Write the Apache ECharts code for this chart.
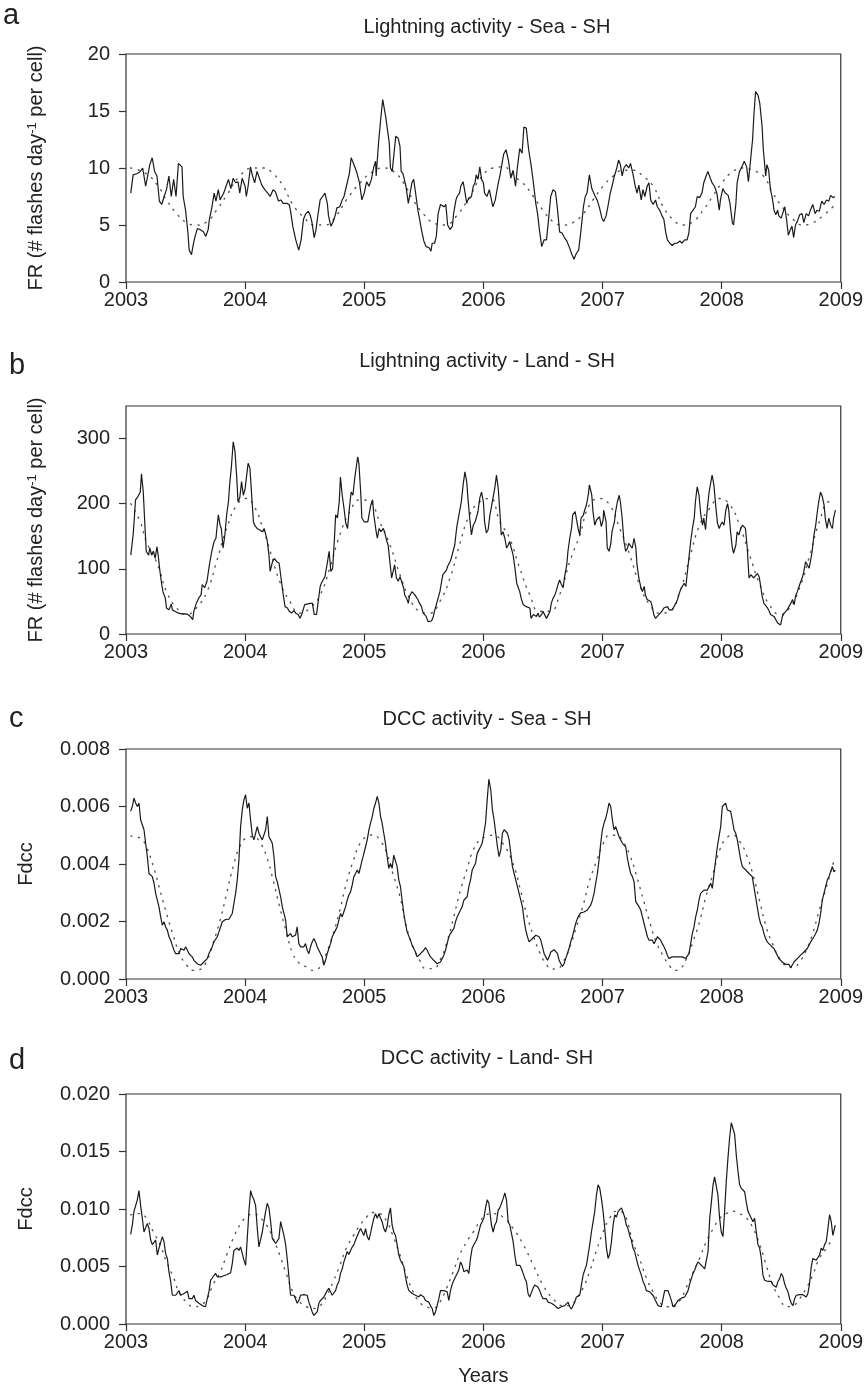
<!DOCTYPE html>
<html>
<head>
<meta charset="utf-8">
<script src="https://cdn.jsdelivr.net/npm/echarts@6/dist/echarts.min.js"></script>
<style>
  html, body { margin: 0; padding: 0; background: #fff; }
  #main { width: 866px; height: 1392px; }
</style>
</head>
<body>
<div id="main"></div>
<script>
// ---- data: [decimal year, value] ----
var yearTicks = [2003, 2004, 2005, 2006, 2007, 2008, 2009];

// a: lightning, sea
var seaFlash = [[2003.04,7.8],[2003.06,9.4],[2003.09,9.5],[2003.12,9.7],[2003.14,10.0],[2003.165,8.4],[2003.20,10.3],[2003.22,10.9],[2003.24,9.7],[2003.26,9.3],[2003.28,7.1],[2003.30,6.8],[2003.32,7.5],[2003.34,8.1],[2003.36,9.3],[2003.38,7.5],[2003.40,9.0],[2003.42,7.5],[2003.44,10.4],[2003.45,10.3],[2003.47,10.1],[2003.48,7.5],[2003.50,6.3],[2003.52,4.3],[2003.53,2.8],[2003.55,2.4],[2003.565,3.3],[2003.58,4.0],[2003.60,4.7],[2003.62,4.6],[2003.65,4.4],[2003.67,4.0],[2003.69,4.6],[2003.70,5.5],[2003.72,6.5],[2003.74,7.8],[2003.755,7.1],[2003.775,8.1],[2003.79,7.2],[2003.82,7.8],[2003.84,8.4],[2003.86,9.0],[2003.88,8.2],[2003.90,9.1],[2003.92,8.7],[2003.94,8.8],[2003.955,7.8],[2003.975,9.1],[2004.00,8.4],[2004.01,7.5],[2004.025,8.4],[2004.045,10.1],[2004.06,9.4],[2004.08,8.7],[2004.10,9.7],[2004.115,9.8],[2004.14,8.5],[2004.165,8.1],[2004.19,7.8],[2004.21,7.5],[2004.235,8.1],[2004.255,7.9],[2004.28,7.1],[2004.30,7.2],[2004.32,6.9],[2004.35,6.9],[2004.37,6.8],[2004.38,6.3],[2004.40,4.9],[2004.425,3.7],[2004.45,2.8],[2004.47,3.7],[2004.49,5.5],[2004.51,6.0],[2004.53,6.2],[2004.545,5.9],[2004.56,5.3],[2004.58,3.9],[2004.595,4.6],[2004.61,5.8],[2004.63,7.2],[2004.65,7.5],[2004.67,7.8],[2004.69,6.9],[2004.70,5.8],[2004.72,4.9],[2004.74,5.3],[2004.76,6.0],[2004.77,6.5],[2004.795,6.6],[2004.815,7.2],[2004.83,7.5],[2004.85,8.4],[2004.875,9.5],[2004.89,10.9],[2004.91,10.4],[2004.935,9.7],[2004.96,8.7],[2004.98,7.2],[2005.00,7.8],[2005.02,8.8],[2005.04,8.4],[2005.06,9.0],[2005.08,10.1],[2005.095,10.6],[2005.10,9.3],[2005.12,12.2],[2005.14,14.5],[2005.155,16.0],[2005.165,15.4],[2005.18,14.5],[2005.195,14.4],[2005.21,12.2],[2005.22,10.0],[2005.235,9.7],[2005.25,11.3],[2005.265,12.8],[2005.285,12.6],[2005.30,11.9],[2005.31,9.7],[2005.325,9.5],[2005.35,8.4],[2005.37,6.9],[2005.38,7.5],[2005.40,8.7],[2005.415,9.0],[2005.435,7.5],[2005.45,6.3],[2005.465,5.5],[2005.48,4.6],[2005.50,3.6],[2005.52,3.1],[2005.545,3.0],[2005.56,2.7],[2005.57,3.4],[2005.59,3.4],[2005.605,4.0],[2005.62,6.0],[2005.64,6.8],[2005.655,6.9],[2005.67,6.6],[2005.685,6.8],[2005.70,5.0],[2005.72,4.6],[2005.74,4.9],[2005.75,6.0],[2005.77,7.2],[2005.78,7.5],[2005.80,7.8],[2005.81,8.4],[2005.83,8.8],[2005.845,7.9],[2005.86,6.9],[2005.87,7.2],[2005.885,7.2],[2005.90,7.5],[2005.915,8.4],[2005.93,8.7],[2005.94,9.4],[2005.955,9.0],[2005.97,10.1],[2005.985,9.0],[2006.00,8.7],[2006.01,7.8],[2006.03,7.5],[2006.05,8.1],[2006.08,6.6],[2006.10,7.2],[2006.12,8.4],[2006.14,9.4],[2006.17,11.2],[2006.19,11.6],[2006.21,10.7],[2006.23,9.1],[2006.25,9.8],[2006.27,8.4],[2006.285,10.0],[2006.305,11.7],[2006.325,11.3],[2006.34,13.6],[2006.36,13.5],[2006.38,11.6],[2006.40,10.3],[2006.42,8.7],[2006.44,6.9],[2006.455,6.0],[2006.47,4.6],[2006.49,3.1],[2006.51,3.7],[2006.53,3.7],[2006.55,5.8],[2006.565,7.5],[2006.585,8.1],[2006.605,7.9],[2006.62,6.6],[2006.64,4.4],[2006.66,4.3],[2006.68,3.9],[2006.70,3.6],[2006.72,3.1],[2006.74,2.5],[2006.76,2.0],[2006.78,2.5],[2006.80,2.8],[2006.82,4.6],[2006.84,6.6],[2006.855,7.5],[2006.87,7.8],[2006.89,9.4],[2006.91,8.2],[2006.935,7.6],[2006.955,7.2],[2006.975,6.5],[2006.995,5.6],[2007.01,5.3],[2007.03,5.8],[2007.045,6.6],[2007.065,7.8],[2007.08,8.4],[2007.10,9.3],[2007.12,10.0],[2007.135,10.7],[2007.15,10.3],[2007.165,9.3],[2007.18,10.0],[2007.20,10.3],[2007.22,10.0],[2007.235,10.4],[2007.255,9.5],[2007.275,8.4],[2007.29,7.8],[2007.305,8.5],[2007.325,7.2],[2007.34,8.1],[2007.355,7.5],[2007.375,8.4],[2007.39,8.7],[2007.405,7.2],[2007.425,6.8],[2007.445,7.2],[2007.46,6.6],[2007.48,6.3],[2007.50,5.8],[2007.515,5.5],[2007.53,4.4],[2007.545,3.7],[2007.565,3.4],[2007.585,3.2],[2007.605,3.4],[2007.625,3.4],[2007.65,3.6],[2007.665,3.4],[2007.69,3.7],[2007.71,3.7],[2007.725,4.3],[2007.74,6.0],[2007.76,6.3],[2007.78,6.6],[2007.795,7.5],[2007.815,7.4],[2007.835,7.8],[2007.85,8.7],[2007.87,9.3],[2007.885,9.7],[2007.905,9.1],[2007.92,8.7],[2007.94,8.4],[2007.96,7.8],[2007.98,6.3],[2007.99,7.2],[2008.01,8.2],[2008.03,7.8],[2008.055,7.6],[2008.07,6.9],[2008.09,5.2],[2008.10,5.0],[2008.12,6.9],[2008.13,8.7],[2008.15,9.7],[2008.17,10.1],[2008.19,10.6],[2008.21,10.1],[2008.225,8.8],[2008.24,10.4],[2008.26,12.5],[2008.27,14.5],[2008.285,16.7],[2008.305,16.4],[2008.32,15.7],[2008.34,13.6],[2008.35,11.6],[2008.37,9.3],[2008.38,10.3],[2008.395,9.8],[2008.41,8.1],[2008.425,7.4],[2008.44,6.3],[2008.455,5.9],[2008.47,6.3],[2008.48,5.8],[2008.50,5.6],[2008.515,5.6],[2008.53,6.6],[2008.545,5.5],[2008.56,4.1],[2008.57,4.4],[2008.59,4.9],[2008.605,3.9],[2008.62,5.0],[2008.635,5.3],[2008.655,5.9],[2008.675,6.0],[2008.69,5.2],[2008.71,6.0],[2008.73,5.8],[2008.745,6.3],[2008.765,6.8],[2008.785,6.0],[2008.80,6.3],[2008.82,6.2],[2008.84,7.1],[2008.86,6.8],[2008.88,7.2],[2008.90,7.1],[2008.915,7.6],[2008.935,7.4],[2008.95,7.5]];
var seaFlashFit = [[2003.04,10.0],[2003.17,9.5],[2003.27,8.4],[2003.34,7.2],[2003.425,6.0],[2003.51,5.2],[2003.59,5.0],[2003.68,5.3],[2003.76,6.3],[2003.845,7.6],[2003.955,9.3],[2004.07,10.0],[2004.15,10.0],[2004.235,9.5],[2004.32,8.4],[2004.40,6.8],[2004.49,5.7],[2004.585,5.0],[2004.67,5.0],[2004.77,5.9],[2004.85,7.2],[2004.965,8.7],[2005.075,9.7],[2005.16,10.0],[2005.245,9.7],[2005.33,8.7],[2005.41,7.2],[2005.495,6.0],[2005.58,5.2],[2005.675,5.0],[2005.775,5.8],[2005.885,7.5],[2005.97,9.0],[2006.08,10.0],[2006.17,10.1],[2006.25,9.3],[2006.33,8.7],[2006.42,7.5],[2006.50,6.3],[2006.585,5.3],[2006.67,5.0],[2006.75,5.2],[2006.84,6.0],[2006.92,7.2],[2007.005,8.4],[2007.09,9.3],[2007.17,9.8],[2007.255,9.8],[2007.34,9.3],[2007.425,8.4],[2007.51,6.6],[2007.59,5.5],[2007.675,5.0],[2007.76,5.3],[2007.845,6.3],[2007.93,7.6],[2008.01,8.8],[2008.095,9.7],[2008.18,10.0],[2008.26,9.8],[2008.35,9.3],[2008.43,7.8],[2008.515,6.5],[2008.60,5.5],[2008.68,5.0],[2008.765,5.2],[2008.85,5.8],[2008.935,6.6]];

// b: lightning, land
var landFlash = [[2003.04,121],[2003.06,152],[2003.07,178],[2003.08,206],[2003.10,211],[2003.12,218],[2003.13,246],[2003.145,218],[2003.16,162],[2003.17,127],[2003.19,121],[2003.20,132],[2003.215,121],[2003.23,127],[2003.245,116],[2003.26,134],[2003.27,121],[2003.285,96],[2003.30,76],[2003.31,65],[2003.33,55],[2003.34,40],[2003.36,37],[2003.38,46],[2003.39,37],[2003.41,35],[2003.44,32],[2003.47,31],[2003.495,31],[2003.52,30],[2003.54,27],[2003.56,22],[2003.57,35],[2003.59,47],[2003.61,55],[2003.63,60],[2003.64,76],[2003.66,71],[2003.68,81],[2003.70,106],[2003.72,127],[2003.74,142],[2003.755,147],[2003.775,183],[2003.79,167],[2003.80,162],[2003.815,132],[2003.83,152],[2003.845,183],[2003.86,203],[2003.87,229],[2003.885,257],[2003.90,295],[2003.915,280],[2003.93,239],[2003.94,203],[2003.955,209],[2003.97,234],[2003.985,213],[2004.00,223],[2004.01,239],[2004.025,262],[2004.04,255],[2004.055,213],[2004.07,172],[2004.08,167],[2004.10,162],[2004.12,160],[2004.145,157],[2004.16,162],[2004.17,165],[2004.185,144],[2004.20,121],[2004.21,96],[2004.23,111],[2004.245,116],[2004.265,111],[2004.285,109],[2004.305,81],[2004.32,60],[2004.335,42],[2004.355,40],[2004.37,35],[2004.39,32],[2004.41,36],[2004.425,32],[2004.445,30],[2004.46,24],[2004.475,30],[2004.49,30],[2004.50,45],[2004.515,47],[2004.545,47],[2004.565,47],[2004.58,30],[2004.60,30],[2004.61,45],[2004.63,73],[2004.64,78],[2004.655,81],[2004.67,88],[2004.69,109],[2004.705,127],[2004.72,96],[2004.735,101],[2004.75,147],[2004.76,183],[2004.775,178],[2004.79,203],[2004.80,241],[2004.815,213],[2004.83,193],[2004.845,170],[2004.86,162],[2004.875,193],[2004.89,218],[2004.905,213],[2004.92,239],[2004.935,259],[2004.945,272],[2004.955,262],[2004.97,218],[2004.98,178],[2005.00,172],[2005.01,175],[2005.03,172],[2005.04,183],[2005.055,198],[2005.07,206],[2005.08,183],[2005.10,157],[2005.11,147],[2005.125,162],[2005.14,157],[2005.16,162],[2005.17,157],[2005.19,142],[2005.20,137],[2005.215,111],[2005.23,86],[2005.24,88],[2005.255,106],[2005.27,86],[2005.285,81],[2005.30,88],[2005.31,86],[2005.33,71],[2005.34,60],[2005.355,55],[2005.37,47],[2005.38,58],[2005.40,65],[2005.41,63],[2005.425,60],[2005.44,58],[2005.45,53],[2005.465,47],[2005.48,42],[2005.495,32],[2005.52,27],[2005.535,19],[2005.55,17],[2005.565,20],[2005.58,27],[2005.59,35],[2005.605,45],[2005.62,55],[2005.635,65],[2005.65,81],[2005.66,91],[2005.675,88],[2005.69,98],[2005.70,104],[2005.72,111],[2005.73,116],[2005.745,119],[2005.76,137],[2005.775,162],[2005.79,178],[2005.80,188],[2005.815,203],[2005.83,229],[2005.845,249],[2005.86,234],[2005.87,209],[2005.885,178],[2005.90,152],[2005.915,167],[2005.93,172],[2005.94,178],[2005.955,188],[2005.97,209],[2005.985,218],[2006.00,203],[2006.01,172],[2006.025,155],[2006.04,160],[2006.055,183],[2006.07,198],[2006.08,198],[2006.095,223],[2006.11,244],[2006.125,223],[2006.14,183],[2006.15,152],[2006.165,157],[2006.18,147],[2006.195,132],[2006.21,137],[2006.22,142],[2006.235,142],[2006.25,121],[2006.265,101],[2006.28,78],[2006.29,76],[2006.305,65],[2006.32,53],[2006.335,45],[2006.36,42],[2006.39,40],[2006.40,24],[2006.42,30],[2006.43,30],[2006.445,27],[2006.46,32],[2006.47,26],[2006.49,30],[2006.50,35],[2006.515,35],[2006.53,24],[2006.54,27],[2006.56,35],[2006.57,47],[2006.585,55],[2006.60,60],[2006.61,65],[2006.63,78],[2006.64,83],[2006.655,76],[2006.67,71],[2006.68,86],[2006.70,106],[2006.71,127],[2006.725,147],[2006.74,162],[2006.75,183],[2006.77,188],[2006.78,178],[2006.795,162],[2006.81,152],[2006.82,178],[2006.84,183],[2006.85,190],[2006.865,198],[2006.88,213],[2006.89,229],[2006.91,213],[2006.92,188],[2006.935,167],[2006.95,175],[2006.96,172],[2006.975,180],[2006.99,165],[2007.005,175],[2007.01,190],[2007.03,172],[2007.04,132],[2007.055,127],[2007.07,139],[2007.08,157],[2007.10,172],[2007.11,188],[2007.125,203],[2007.14,213],[2007.15,203],[2007.165,178],[2007.18,142],[2007.195,127],[2007.21,132],[2007.22,139],[2007.235,137],[2007.25,132],[2007.265,147],[2007.28,132],[2007.29,106],[2007.305,86],[2007.32,73],[2007.335,65],[2007.35,73],[2007.36,60],[2007.375,53],[2007.39,53],[2007.405,50],[2007.42,40],[2007.43,30],[2007.445,24],[2007.46,26],[2007.475,30],[2007.49,27],[2007.50,35],[2007.515,40],[2007.53,40],[2007.545,42],[2007.56,37],[2007.57,40],[2007.585,37],[2007.60,40],[2007.615,47],[2007.63,53],[2007.64,60],[2007.655,68],[2007.67,73],[2007.685,78],[2007.70,73],[2007.71,91],[2007.725,116],[2007.74,142],[2007.755,162],[2007.77,178],[2007.78,203],[2007.795,226],[2007.81,213],[2007.825,183],[2007.84,167],[2007.85,178],[2007.865,160],[2007.88,193],[2007.895,218],[2007.91,234],[2007.92,244],[2007.935,229],[2007.95,198],[2007.965,170],[2007.98,162],[2007.99,167],[2008.005,172],[2008.02,167],[2008.035,190],[2008.05,200],[2008.06,190],[2008.075,157],[2008.09,132],[2008.10,124],[2008.12,137],[2008.13,157],[2008.145,152],[2008.16,162],[2008.175,167],[2008.19,170],[2008.20,162],[2008.215,132],[2008.23,86],[2008.245,91],[2008.26,93],[2008.27,86],[2008.285,88],[2008.30,93],[2008.315,88],[2008.33,71],[2008.34,58],[2008.355,47],[2008.37,47],[2008.385,40],[2008.40,35],[2008.41,30],[2008.425,27],[2008.44,27],[2008.455,24],[2008.47,17],[2008.48,14],[2008.495,14],[2008.51,27],[2008.525,32],[2008.54,35],[2008.55,37],[2008.565,40],[2008.58,47],[2008.595,53],[2008.61,45],[2008.62,58],[2008.635,65],[2008.65,73],[2008.665,81],[2008.68,88],[2008.69,96],[2008.705,111],[2008.72,106],[2008.735,101],[2008.75,116],[2008.76,127],[2008.775,152],[2008.79,167],[2008.80,183],[2008.815,203],[2008.83,218],[2008.845,211],[2008.86,198],[2008.87,178],[2008.885,162],[2008.90,178],[2008.915,167],[2008.93,162],[2008.94,178],[2008.955,190]];
var landFlashFit = [[2003.04,200],[2003.12,172],[2003.17,142],[2003.23,121],[2003.285,96],[2003.34,65],[2003.425,40],[2003.51,30],[2003.59,40],[2003.68,65],[2003.76,111],[2003.845,162],[2003.93,198],[2004.01,208],[2004.07,198],[2004.15,162],[2004.21,127],[2004.29,81],[2004.375,50],[2004.46,32],[2004.545,40],[2004.63,60],[2004.71,101],[2004.795,152],[2004.88,188],[2004.965,206],[2005.045,203],[2005.13,172],[2005.215,137],[2005.30,91],[2005.38,55],[2005.465,35],[2005.55,32],[2005.635,50],[2005.72,86],[2005.80,137],[2005.885,183],[2005.97,203],[2006.055,208],[2006.14,172],[2006.22,147],[2006.305,101],[2006.39,60],[2006.47,35],[2006.56,35],[2006.64,60],[2006.725,111],[2006.81,152],[2006.89,198],[2006.975,208],[2007.06,198],[2007.145,162],[2007.23,121],[2007.31,76],[2007.395,45],[2007.48,32],[2007.565,35],[2007.65,65],[2007.73,116],[2007.815,167],[2007.90,193],[2007.985,208],[2008.07,198],[2008.15,167],[2008.235,121],[2008.32,76],[2008.40,45],[2008.49,30],[2008.57,40],[2008.655,71],[2008.74,121],[2008.82,172],[2008.905,203],[2008.95,200]];

// c: DCC, sea
var seaDcc = [[2003.039,0.00583],[2003.053,0.00600],[2003.067,0.00629],[2003.081,0.00612],[2003.095,0.00600],[2003.109,0.00612],[2003.123,0.00553],[2003.137,0.00553],[2003.151,0.00519],[2003.165,0.00472],[2003.179,0.00426],[2003.193,0.00367],[2003.207,0.00373],[2003.221,0.00356],[2003.235,0.00333],[2003.249,0.00298],[2003.263,0.00292],[2003.277,0.00251],[2003.291,0.00216],[2003.305,0.00187],[2003.319,0.00199],[2003.333,0.00181],[2003.347,0.00170],[2003.361,0.00147],[2003.375,0.00135],[2003.389,0.00117],[2003.403,0.00100],[2003.417,0.00088],[2003.431,0.00083],[2003.445,0.00088],[2003.459,0.00106],[2003.473,0.00109],[2003.487,0.00100],[2003.501,0.00112],[2003.515,0.00106],[2003.529,0.00088],[2003.543,0.00088],[2003.556,0.00077],[2003.570,0.00065],[2003.584,0.00065],[2003.598,0.00053],[2003.612,0.00059],[2003.626,0.00048],[2003.640,0.00053],[2003.654,0.00059],[2003.668,0.00065],[2003.682,0.00071],[2003.696,0.00088],[2003.710,0.00100],[2003.724,0.00112],[2003.738,0.00129],[2003.752,0.00135],[2003.766,0.00147],[2003.780,0.00164],[2003.794,0.00181],[2003.808,0.00199],[2003.822,0.00205],[2003.836,0.00207],[2003.850,0.00208],[2003.864,0.00208],[2003.878,0.00210],[2003.892,0.00228],[2003.906,0.00263],[2003.920,0.00298],[2003.934,0.00344],[2003.948,0.00414],[2003.962,0.00530],[2003.976,0.00588],[2003.990,0.00623],[2004.004,0.00641],[2004.018,0.00594],[2004.032,0.00612],[2004.046,0.00553],[2004.060,0.00501],[2004.074,0.00484],[2004.088,0.00507],[2004.102,0.00530],[2004.116,0.00507],[2004.130,0.00495],[2004.144,0.00484],[2004.158,0.00490],[2004.172,0.00519],[2004.186,0.00565],[2004.200,0.00495],[2004.214,0.00484],[2004.228,0.00472],[2004.242,0.00426],[2004.256,0.00356],[2004.270,0.00338],[2004.284,0.00333],[2004.298,0.00286],[2004.312,0.00251],[2004.326,0.00228],[2004.340,0.00205],[2004.353,0.00147],[2004.367,0.00141],[2004.381,0.00158],[2004.395,0.00147],[2004.409,0.00147],[2004.423,0.00152],[2004.437,0.00181],[2004.451,0.00123],[2004.465,0.00112],[2004.479,0.00117],[2004.493,0.00112],[2004.507,0.00123],[2004.521,0.00100],[2004.535,0.00088],[2004.549,0.00112],[2004.563,0.00129],[2004.577,0.00141],[2004.591,0.00129],[2004.605,0.00112],[2004.619,0.00100],[2004.633,0.00088],[2004.647,0.00077],[2004.661,0.00048],[2004.675,0.00065],[2004.689,0.00088],[2004.703,0.00106],[2004.717,0.00123],[2004.731,0.00147],[2004.745,0.00158],[2004.759,0.00170],[2004.773,0.00181],[2004.787,0.00205],[2004.801,0.00228],[2004.815,0.00216],[2004.829,0.00234],[2004.843,0.00251],[2004.857,0.00274],[2004.871,0.00292],[2004.885,0.00303],[2004.899,0.00327],[2004.913,0.00356],[2004.927,0.00367],[2004.941,0.00379],[2004.955,0.00367],[2004.969,0.00391],[2004.983,0.00414],[2004.997,0.00437],[2005.011,0.00460],[2005.025,0.00484],[2005.039,0.00519],[2005.053,0.00542],[2005.067,0.00565],[2005.081,0.00594],[2005.095,0.00612],[2005.109,0.00635],[2005.123,0.00612],[2005.137,0.00565],[2005.150,0.00542],[2005.164,0.00507],[2005.178,0.00472],[2005.192,0.00426],[2005.206,0.00385],[2005.220,0.00402],[2005.234,0.00385],[2005.248,0.00431],[2005.262,0.00426],[2005.276,0.00391],[2005.290,0.00344],[2005.304,0.00321],[2005.318,0.00274],[2005.332,0.00228],[2005.346,0.00193],[2005.360,0.00164],[2005.374,0.00158],[2005.388,0.00135],[2005.402,0.00117],[2005.416,0.00106],[2005.430,0.00094],[2005.444,0.00077],[2005.458,0.00074],[2005.472,0.00088],[2005.486,0.00094],[2005.500,0.00100],[2005.514,0.00109],[2005.528,0.00100],[2005.542,0.00088],[2005.556,0.00077],[2005.570,0.00071],[2005.584,0.00065],[2005.598,0.00059],[2005.612,0.00053],[2005.626,0.00056],[2005.640,0.00059],[2005.654,0.00065],[2005.668,0.00083],[2005.682,0.00100],[2005.696,0.00123],[2005.710,0.00147],[2005.724,0.00158],[2005.738,0.00164],[2005.752,0.00176],[2005.766,0.00199],[2005.780,0.00216],[2005.794,0.00222],[2005.808,0.00240],[2005.822,0.00251],[2005.836,0.00274],[2005.850,0.00269],[2005.864,0.00286],[2005.878,0.00321],[2005.892,0.00344],[2005.906,0.00379],[2005.920,0.00385],[2005.934,0.00402],[2005.948,0.00437],[2005.962,0.00431],[2005.976,0.00460],[2005.990,0.00472],[2006.004,0.00507],[2006.018,0.00542],[2006.032,0.00623],[2006.046,0.00695],[2006.062,0.00658],[2006.076,0.00588],[2006.090,0.00553],[2006.104,0.00507],[2006.118,0.00460],[2006.132,0.00426],[2006.146,0.00449],[2006.160,0.00507],[2006.174,0.00519],[2006.188,0.00519],[2006.202,0.00507],[2006.216,0.00484],[2006.230,0.00437],[2006.244,0.00391],[2006.258,0.00367],[2006.272,0.00344],[2006.286,0.00321],[2006.300,0.00298],[2006.314,0.00274],[2006.328,0.00251],[2006.342,0.00205],[2006.356,0.00170],[2006.370,0.00147],[2006.384,0.00129],[2006.398,0.00135],[2006.412,0.00141],[2006.426,0.00147],[2006.440,0.00152],[2006.454,0.00158],[2006.468,0.00147],[2006.482,0.00135],[2006.496,0.00112],[2006.510,0.00088],[2006.524,0.00077],[2006.538,0.00065],[2006.552,0.00077],[2006.566,0.00094],[2006.580,0.00100],[2006.594,0.00102],[2006.608,0.00100],[2006.622,0.00088],[2006.636,0.00065],[2006.650,0.00053],[2006.664,0.00044],[2006.677,0.00053],[2006.691,0.00071],[2006.705,0.00088],[2006.719,0.00106],[2006.733,0.00129],[2006.747,0.00147],[2006.761,0.00170],[2006.775,0.00193],[2006.789,0.00210],[2006.803,0.00222],[2006.817,0.00230],[2006.831,0.00234],[2006.845,0.00233],[2006.859,0.00234],[2006.873,0.00240],[2006.887,0.00245],[2006.901,0.00257],[2006.915,0.00274],[2006.929,0.00298],[2006.943,0.00333],[2006.957,0.00367],[2006.971,0.00414],[2006.985,0.00472],[2006.999,0.00519],[2007.013,0.00542],[2007.027,0.00559],[2007.041,0.00583],[2007.055,0.00612],[2007.069,0.00600],[2007.083,0.00553],[2007.097,0.00519],[2007.111,0.00530],[2007.125,0.00524],[2007.139,0.00495],[2007.153,0.00490],[2007.167,0.00472],[2007.181,0.00478],[2007.195,0.00460],[2007.209,0.00420],[2007.223,0.00391],[2007.237,0.00367],[2007.251,0.00356],[2007.265,0.00338],[2007.279,0.00269],[2007.293,0.00274],[2007.307,0.00251],[2007.321,0.00240],[2007.335,0.00216],[2007.349,0.00193],[2007.363,0.00170],[2007.377,0.00147],[2007.391,0.00135],[2007.405,0.00129],[2007.419,0.00135],[2007.433,0.00123],[2007.447,0.00135],[2007.461,0.00147],[2007.475,0.00152],[2007.488,0.00135],[2007.502,0.00123],[2007.516,0.00112],[2007.530,0.00100],[2007.544,0.00083],[2007.558,0.00071],[2007.572,0.00074],[2007.586,0.00077],[2007.600,0.00074],[2007.614,0.00077],[2007.628,0.00074],[2007.642,0.00077],[2007.656,0.00073],[2007.670,0.00077],[2007.684,0.00074],[2007.698,0.00071],[2007.712,0.00071],[2007.726,0.00088],[2007.740,0.00123],[2007.754,0.00158],[2007.768,0.00181],[2007.782,0.00216],[2007.796,0.00240],[2007.810,0.00274],[2007.824,0.00298],[2007.838,0.00303],[2007.852,0.00309],[2007.866,0.00315],[2007.880,0.00309],[2007.894,0.00321],[2007.908,0.00333],[2007.922,0.00315],[2007.936,0.00367],[2007.950,0.00414],[2007.964,0.00460],[2007.978,0.00495],[2007.992,0.00530],[2008.006,0.00600],[2008.020,0.00606],[2008.034,0.00612],[2008.048,0.00588],[2008.062,0.00594],[2008.076,0.00583],[2008.090,0.00553],[2008.104,0.00519],[2008.118,0.00507],[2008.132,0.00484],[2008.146,0.00449],[2008.160,0.00414],[2008.174,0.00391],[2008.188,0.00385],[2008.202,0.00379],[2008.216,0.00373],[2008.230,0.00367],[2008.244,0.00367],[2008.257,0.00356],[2008.271,0.00321],[2008.285,0.00286],[2008.299,0.00251],[2008.313,0.00216],[2008.327,0.00193],[2008.341,0.00181],[2008.355,0.00158],[2008.369,0.00141],[2008.383,0.00129],[2008.397,0.00123],[2008.411,0.00117],[2008.425,0.00112],[2008.439,0.00106],[2008.453,0.00094],[2008.467,0.00083],[2008.481,0.00071],[2008.495,0.00065],[2008.509,0.00059],[2008.523,0.00053],[2008.537,0.00051],[2008.551,0.00048],[2008.565,0.00051],[2008.579,0.00040],[2008.593,0.00048],[2008.607,0.00059],[2008.621,0.00065],[2008.635,0.00071],[2008.649,0.00077],[2008.663,0.00083],[2008.677,0.00088],[2008.691,0.00094],[2008.705,0.00100],[2008.719,0.00106],[2008.733,0.00117],[2008.747,0.00129],[2008.761,0.00135],[2008.775,0.00147],[2008.789,0.00158],[2008.803,0.00170],[2008.817,0.00193],[2008.831,0.00228],[2008.845,0.00274],[2008.859,0.00298],[2008.873,0.00321],[2008.887,0.00344],[2008.901,0.00356],[2008.915,0.00373],[2008.929,0.00391],[2008.943,0.00373],[2008.954,0.00379]];
var seaDccFit = [[2003.04,0.00497],[2003.12,0.00490],[2003.17,0.00460],[2003.23,0.00391],[2003.285,0.00309],[2003.34,0.00228],[2003.40,0.00147],[2003.45,0.00088],[2003.51,0.00048],[2003.565,0.00030],[2003.62,0.00033],[2003.68,0.00065],[2003.73,0.00123],[2003.79,0.00205],[2003.845,0.00298],[2003.90,0.00391],[2003.955,0.00460],[2004.01,0.00490],[2004.07,0.00495],[2004.12,0.00478],[2004.18,0.00426],[2004.235,0.00344],[2004.29,0.00251],[2004.35,0.00158],[2004.40,0.00088],[2004.46,0.00053],[2004.515,0.00042],[2004.57,0.00030],[2004.63,0.00042],[2004.68,0.00088],[2004.74,0.00158],[2004.795,0.00240],[2004.85,0.00333],[2004.91,0.00414],[2004.965,0.00472],[2005.02,0.00495],[2005.075,0.00501],[2005.13,0.00484],[2005.19,0.00437],[2005.24,0.00367],[2005.30,0.00286],[2005.355,0.00181],[2005.41,0.00112],[2005.465,0.00065],[2005.52,0.00036],[2005.58,0.00036],[2005.635,0.00065],[2005.69,0.00123],[2005.745,0.00205],[2005.80,0.00298],[2005.86,0.00379],[2005.915,0.00449],[2005.97,0.00484],[2006.025,0.00495],[2006.08,0.00500],[2006.165,0.00470],[2006.25,0.00400],[2006.305,0.00320],[2006.36,0.00230],[2006.42,0.00150],[2006.475,0.00090],[2006.53,0.00050],[2006.57,0.00035],[2006.615,0.00035],[2006.67,0.00060],[2006.725,0.00110],[2006.78,0.00180],[2006.84,0.00260],[2006.89,0.00340],[2006.95,0.00410],[2007.005,0.00470],[2007.06,0.00500],[2007.115,0.00500],[2007.17,0.00480],[2007.23,0.00430],[2007.285,0.00360],[2007.34,0.00280],[2007.395,0.00200],[2007.45,0.00130],[2007.51,0.00080],[2007.565,0.00045],[2007.605,0.00030],[2007.65,0.00035],[2007.705,0.00070],[2007.76,0.00130],[2007.815,0.00200],[2007.87,0.00290],[2007.93,0.00370],[2007.985,0.00450],[2008.04,0.00490],[2008.095,0.00500],[2008.15,0.00480],[2008.21,0.00430],[2008.265,0.00360],[2008.32,0.00270],[2008.375,0.00180],[2008.43,0.00120],[2008.49,0.00070],[2008.545,0.00045],[2008.60,0.00040],[2008.655,0.00060],[2008.71,0.00100],[2008.765,0.00160],[2008.82,0.00240],[2008.88,0.00320],[2008.935,0.00400],[2008.955,0.00420]];

// d: DCC, land
var landDcc = [[2003.039,0.0078],[2003.053,0.0086],[2003.067,0.0098],[2003.081,0.0103],[2003.095,0.0108],[2003.109,0.0116],[2003.123,0.0103],[2003.137,0.0092],[2003.151,0.0080],[2003.165,0.0079],[2003.179,0.00875],[2003.193,0.0083],[2003.207,0.0073],[2003.221,0.0069],[2003.235,0.0070],[2003.249,0.0073],[2003.263,0.0060],[2003.277,0.0066],[2003.291,0.0066],[2003.305,0.0076],[2003.319,0.00715],[2003.333,0.0061],[2003.347,0.0057],[2003.361,0.0045],[2003.375,0.0037],[2003.389,0.0025],[2003.403,0.00235],[2003.417,0.0025],[2003.431,0.00235],[2003.445,0.0029],[2003.459,0.0025],[2003.473,0.00235],[2003.487,0.00265],[2003.501,0.0025],[2003.515,0.00285],[2003.529,0.0022],[2003.543,0.00205],[2003.556,0.0022],[2003.570,0.0025],[2003.584,0.00205],[2003.598,0.00205],[2003.612,0.0018],[2003.626,0.0019],[2003.640,0.0016],[2003.654,0.0016],[2003.668,0.0015],[2003.682,0.0022],[2003.696,0.0028],[2003.710,0.0038],[2003.724,0.0040],[2003.738,0.0041],[2003.752,0.0044],[2003.766,0.0041],[2003.780,0.0042],[2003.794,0.0041],[2003.808,0.0042],[2003.822,0.0042],[2003.836,0.0043],[2003.850,0.0043],[2003.864,0.00435],[2003.878,0.00445],[2003.892,0.00525],[2003.906,0.0064],[2003.920,0.0064],[2003.934,0.0066],[2003.948,0.0064],[2003.962,0.0067],[2003.976,0.0066],[2003.990,0.00555],[2004.004,0.0051],[2004.018,0.00745],[2004.032,0.0098],[2004.046,0.0116],[2004.060,0.0111],[2004.074,0.0108],[2004.088,0.0103],[2004.102,0.0083],[2004.116,0.0067],[2004.130,0.0066],[2004.144,0.0080],[2004.158,0.0089],[2004.172,0.0098],[2004.186,0.0105],[2004.200,0.0101],[2004.214,0.0089],[2004.228,0.00745],[2004.242,0.0073],[2004.256,0.0070],[2004.270,0.0069],[2004.284,0.00745],[2004.298,0.0089],[2004.312,0.0083],[2004.326,0.0077],[2004.340,0.0069],[2004.353,0.0057],[2004.367,0.0042],[2004.381,0.0025],[2004.395,0.00235],[2004.409,0.0025],[2004.423,0.0022],[2004.437,0.0018],[2004.451,0.00205],[2004.465,0.0025],[2004.479,0.0025],[2004.493,0.00255],[2004.507,0.00265],[2004.521,0.0025],[2004.535,0.0019],[2004.549,0.0015],[2004.563,0.00105],[2004.577,0.00075],[2004.591,0.00075],[2004.605,0.00105],[2004.619,0.0018],[2004.633,0.00205],[2004.647,0.0022],[2004.661,0.00235],[2004.675,0.0025],[2004.689,0.0029],[2004.703,0.0031],[2004.717,0.0028],[2004.731,0.0025],[2004.745,0.00265],[2004.759,0.0029],[2004.773,0.0034],[2004.787,0.0037],[2004.801,0.0044],[2004.815,0.0048],[2004.829,0.0054],[2004.843,0.00585],[2004.857,0.0063],[2004.871,0.00605],[2004.885,0.0064],[2004.899,0.0067],[2004.913,0.0069],[2004.927,0.0073],[2004.941,0.00745],[2004.955,0.0080],[2004.969,0.0083],[2004.983,0.0080],[2004.997,0.0077],[2005.011,0.0083],[2005.025,0.0076],[2005.039,0.0073],[2005.053,0.0079],[2005.067,0.0086],[2005.081,0.0092],[2005.095,0.0096],[2005.109,0.0092],[2005.123,0.0096],[2005.137,0.0092],[2005.150,0.0089],[2005.164,0.0083],[2005.178,0.0080],[2005.192,0.0085],[2005.206,0.0095],[2005.220,0.0101],[2005.234,0.0086],[2005.248,0.0080],[2005.262,0.0077],[2005.276,0.0069],[2005.290,0.0060],[2005.304,0.00555],[2005.318,0.0057],[2005.332,0.0050],[2005.346,0.0041],[2005.360,0.0034],[2005.374,0.0029],[2005.388,0.0028],[2005.402,0.00265],[2005.416,0.0025],[2005.430,0.0025],[2005.444,0.00255],[2005.458,0.00235],[2005.472,0.00255],[2005.486,0.00265],[2005.500,0.00235],[2005.514,0.00205],[2005.528,0.0019],[2005.542,0.0019],[2005.556,0.0016],[2005.570,0.00135],[2005.584,0.00075],[2005.598,0.00105],[2005.612,0.0016],[2005.626,0.0022],[2005.640,0.0029],[2005.654,0.0030],[2005.668,0.0029],[2005.682,0.0029],[2005.696,0.0028],[2005.710,0.00205],[2005.724,0.0029],[2005.738,0.00345],[2005.752,0.0038],[2005.766,0.00395],[2005.780,0.0044],[2005.794,0.0047],[2005.808,0.0054],[2005.822,0.0051],[2005.836,0.00455],[2005.850,0.0047],[2005.864,0.0047],[2005.878,0.0044],[2005.892,0.0057],[2005.906,0.0066],[2005.920,0.0069],[2005.934,0.00715],[2005.948,0.00745],[2005.962,0.0076],[2005.976,0.0086],[2005.990,0.0089],[2006.004,0.0092],[2006.018,0.0101],[2006.032,0.0108],[2006.046,0.0105],[2006.068,0.0086],[2006.082,0.0080],[2006.096,0.0086],[2006.110,0.0089],[2006.124,0.0099],[2006.138,0.0101],[2006.152,0.0102],[2006.166,0.0109],[2006.180,0.0114],[2006.194,0.0108],[2006.208,0.0089],[2006.222,0.0086],[2006.236,0.00845],[2006.250,0.00715],[2006.264,0.0060],[2006.278,0.0051],[2006.292,0.00495],[2006.306,0.0051],[2006.320,0.0048],[2006.334,0.0044],[2006.348,0.00395],[2006.361,0.0037],[2006.375,0.00265],[2006.389,0.00235],[2006.403,0.0025],[2006.417,0.0031],[2006.431,0.0034],[2006.445,0.0034],[2006.459,0.0032],[2006.473,0.0029],[2006.487,0.0025],[2006.501,0.0022],[2006.515,0.00205],[2006.529,0.0022],[2006.543,0.0019],[2006.557,0.00195],[2006.571,0.0018],[2006.585,0.0019],[2006.599,0.0016],[2006.613,0.0015],[2006.627,0.00135],[2006.641,0.0012],[2006.655,0.0015],[2006.669,0.0014],[2006.683,0.0016],[2006.697,0.0015],[2006.711,0.0019],[2006.725,0.0015],[2006.739,0.0013],[2006.753,0.0016],[2006.767,0.0019],[2006.781,0.00235],[2006.795,0.0022],[2006.809,0.0025],[2006.823,0.0034],[2006.837,0.00425],[2006.851,0.0047],[2006.865,0.0051],[2006.879,0.0060],[2006.893,0.0069],[2006.907,0.0080],[2006.921,0.0089],[2006.935,0.0098],[2006.949,0.0112],[2006.963,0.0121],[2006.977,0.0118],[2006.991,0.0109],[2007.005,0.0098],[2007.019,0.0083],[2007.033,0.0066],[2007.047,0.0057],[2007.061,0.0061],[2007.075,0.00715],[2007.089,0.0086],[2007.103,0.0095],[2007.117,0.0093],[2007.131,0.0098],[2007.145,0.0099],[2007.159,0.0101],[2007.172,0.0101],[2007.186,0.0093],[2007.200,0.0086],[2007.214,0.0083],[2007.228,0.0077],[2007.242,0.0073],[2007.256,0.0066],[2007.270,0.0063],[2007.284,0.0057],[2007.298,0.0051],[2007.312,0.00495],[2007.326,0.00425],[2007.340,0.0037],[2007.354,0.0034],[2007.368,0.0029],[2007.382,0.0028],[2007.396,0.0028],[2007.410,0.00265],[2007.424,0.0025],[2007.438,0.0022],[2007.452,0.0019],[2007.466,0.0016],[2007.480,0.0015],[2007.494,0.0015],[2007.508,0.0022],[2007.522,0.0029],[2007.536,0.0029],[2007.550,0.0029],[2007.564,0.0028],[2007.578,0.00205],[2007.592,0.0015],[2007.606,0.00135],[2007.620,0.0018],[2007.634,0.00205],[2007.648,0.0022],[2007.662,0.00225],[2007.676,0.00235],[2007.690,0.00235],[2007.704,0.0025],[2007.718,0.0029],[2007.732,0.0035],[2007.746,0.00395],[2007.760,0.0044],[2007.774,0.0047],[2007.788,0.0051],[2007.802,0.0054],[2007.816,0.00525],[2007.830,0.0051],[2007.844,0.00495],[2007.858,0.0048],[2007.872,0.0047],[2007.886,0.0063],[2007.900,0.0092],[2007.914,0.0106],[2007.928,0.0121],[2007.941,0.0128],[2007.955,0.0127],[2007.969,0.0112],[2007.983,0.0092],[2007.997,0.0080],[2008.011,0.0076],[2008.025,0.0098],[2008.039,0.0124],[2008.053,0.0144],[2008.067,0.0162],[2008.081,0.0175],[2008.095,0.0176],[2008.109,0.0165],[2008.123,0.0147],[2008.137,0.0133],[2008.151,0.0121],[2008.165,0.0118],[2008.179,0.01195],[2008.193,0.0115],[2008.207,0.0106],[2008.221,0.0098],[2008.235,0.0095],[2008.249,0.0092],[2008.263,0.0089],[2008.277,0.0092],[2008.291,0.0080],[2008.305,0.0069],[2008.319,0.0066],[2008.333,0.0057],[2008.347,0.00425],[2008.361,0.0038],[2008.375,0.00395],[2008.389,0.0037],[2008.403,0.0038],[2008.417,0.0037],[2008.431,0.0034],[2008.445,0.0035],[2008.459,0.0032],[2008.473,0.0037],[2008.487,0.00395],[2008.501,0.0044],[2008.515,0.0041],[2008.529,0.0035],[2008.543,0.0031],[2008.557,0.0028],[2008.571,0.0022],[2008.585,0.0018],[2008.599,0.0016],[2008.613,0.0022],[2008.627,0.0025],[2008.641,0.00265],[2008.654,0.00255],[2008.668,0.00265],[2008.682,0.00255],[2008.696,0.0025],[2008.710,0.00235],[2008.724,0.00265],[2008.738,0.0035],[2008.752,0.00495],[2008.766,0.0057],[2008.780,0.00555],[2008.794,0.00555],[2008.808,0.0057],[2008.822,0.0060],[2008.836,0.0066],[2008.850,0.0064],[2008.864,0.0069],[2008.878,0.00715],[2008.892,0.0083],[2008.906,0.0095],[2008.920,0.0089],[2008.934,0.0077],[2008.948,0.0076],[2008.954,0.0086]];
var landDccFit = [[2003.04,0.0095],[2003.12,0.0096],[2003.17,0.0092],[2003.23,0.0080],[2003.285,0.0069],[2003.34,0.0054],[2003.40,0.0040],[2003.45,0.00265],[2003.51,0.0019],[2003.565,0.0015],[2003.62,0.0016],[2003.68,0.0022],[2003.73,0.0034],[2003.79,0.0045],[2003.845,0.0060],[2003.90,0.00745],[2003.955,0.0086],[2004.01,0.0093],[2004.07,0.0096],[2004.12,0.0093],[2004.18,0.0086],[2004.235,0.00745],[2004.29,0.0060],[2004.35,0.00425],[2004.40,0.0028],[2004.46,0.0019],[2004.515,0.0015],[2004.57,0.00135],[2004.63,0.0016],[2004.68,0.00235],[2004.74,0.0037],[2004.795,0.0051],[2004.85,0.0066],[2004.91,0.0077],[2004.965,0.0086],[2005.02,0.0093],[2005.075,0.0097],[2005.13,0.0096],[2005.19,0.0089],[2005.24,0.0077],[2005.30,0.0060],[2005.355,0.00425],[2005.41,0.0028],[2005.465,0.0019],[2005.52,0.0015],[2005.58,0.0014],[2005.635,0.0019],[2005.69,0.0031],[2005.745,0.0045],[2005.80,0.0060],[2005.86,0.00715],[2005.915,0.0080],[2005.97,0.0089],[2006.025,0.0095],[2006.08,0.0096],[2006.165,0.0093],[2006.25,0.0083],[2006.335,0.0069],[2006.42,0.0051],[2006.50,0.0034],[2006.585,0.0022],[2006.67,0.0016],[2006.725,0.0016],[2006.78,0.0022],[2006.835,0.0031],[2006.89,0.0045],[2006.95,0.0064],[2007.005,0.0080],[2007.06,0.0092],[2007.115,0.0098],[2007.17,0.0097],[2007.20,0.0092],[2007.255,0.00715],[2007.31,0.0057],[2007.37,0.00395],[2007.425,0.0028],[2007.48,0.0019],[2007.535,0.0015],[2007.59,0.0015],[2007.65,0.00205],[2007.70,0.0031],[2007.76,0.0045],[2007.815,0.0057],[2007.87,0.00715],[2007.93,0.0083],[2007.985,0.0092],[2008.04,0.0096],[2008.095,0.0098],[2008.15,0.0096],[2008.21,0.0092],[2008.265,0.0083],[2008.32,0.0069],[2008.375,0.0051],[2008.43,0.0034],[2008.49,0.0022],[2008.545,0.0015],[2008.60,0.0016],[2008.655,0.0022],[2008.71,0.0031],[2008.765,0.00425],[2008.82,0.0057],[2008.88,0.0066],[2008.935,0.00745]];

// panel definitions
var fontFam = '"Liberation Sans", Arial, sans-serif';
var ink = '#222';
var frName = '{t|FR (# flashes day}{s|-1}{t| per cell)}';

var panels = [
  { letter: 'a', title: 'Lightning activity - Sea - SH', top: 54, height: 228, max: 20, interval: 5,
    ticks: [0, 5, 10, 15, 20], dec: 0, name: frName, gap: 80, solid: seaFlash, fit: seaFlashFit,
    titleY: 27, letterY: 16 },
  { letter: 'b', title: 'Lightning activity - Land - SH', top: 406, height: 228, max: 350, interval: 100,
    ticks: [0, 100, 200, 300], dec: 0, name: frName, gap: 80, solid: landFlash, fit: landFlashFit,
    titleY: 361, letterY: 366 },
  { letter: 'c', title: 'DCC activity - Sea - SH', top: 749, height: 230, max: 0.008, interval: 0.002,
    ticks: [0, 0.002, 0.004, 0.006, 0.008], dec: 3, name: 'Fdcc', gap: 90, solid: seaDcc, fit: seaDccFit,
    titleY: 719, letterY: 719 },
  { letter: 'd', title: 'DCC activity - Land- SH', top: 1094, height: 230, max: 0.02, interval: 0.005,
    ticks: [0, 0.005, 0.01, 0.015, 0.02], dec: 3, name: 'Fdcc', gap: 90, solid: landDcc, fit: landDccFit,
    titleY: 1058, letterY: 1061 }
];

var grids = [], xAxes = [], yAxes = [], series = [], graphics = [];
var axisLineStyle = { color: '#333', width: 1.2 };

panels.forEach(function (p, i) {
  // the grid border draws the whole frame, axes only add ticks and labels
  grids.push({ left: 126, width: 715, top: p.top, height: p.height,
    show: true, borderColor: '#333', borderWidth: 1.2, backgroundColor: 'transparent' });

  var xa = {
    gridIndex: i, type: 'value', min: 2003, max: 2009, interval: 1,
    axisLine: { show: false },
    axisTick: { show: true, length: 7, lineStyle: axisLineStyle, customValues: yearTicks },
    axisLabel: { margin: 8, fontSize: 20, color: ink, fontFamily: fontFam,
      customValues: yearTicks, formatter: function (v) { return String(v); } },
    splitLine: { show: false }
  };
  if (i === 3) {
    xa.name = 'Years';
    xa.nameLocation = 'middle';
    xa.nameGap = 42;
    xa.nameTextStyle = { fontSize: 20, color: ink, fontFamily: fontFam };
  }
  xAxes.push(xa);

  yAxes.push({
    gridIndex: i, type: 'value', min: 0, max: p.max, interval: p.interval,
    name: p.name, nameLocation: 'middle', nameGap: p.gap,
    nameTextStyle: { fontSize: 20, color: ink, fontFamily: fontFam,
      rich: { t: { fontSize: 20, color: ink, fontFamily: fontFam },
              s: { fontSize: 13, color: ink, fontFamily: fontFam, verticalAlign: 'top' } } },
    axisLine: { show: false },
    axisTick: { show: true, length: 7, lineStyle: axisLineStyle, customValues: p.ticks },
    axisLabel: { margin: 16, fontSize: 20, color: ink, fontFamily: fontFam,
      customValues: p.ticks, formatter: function (v) { return v.toFixed(p.dec); } },
    splitLine: { show: false }
  });

  series.push({
    type: 'line', xAxisIndex: i, yAxisIndex: i, data: p.fit, symbol: 'none', smooth: true,
    lineStyle: { color: '#555', width: 1.4, type: [1.2, 6.5], cap: 'round' }, z: 2
  });
  series.push({
    type: 'line', xAxisIndex: i, yAxisIndex: i, data: p.solid, symbol: 'none',
    lineStyle: { color: '#1a1a1a', width: 1.2 }, z: 3
  });

  graphics.push({ type: 'text', x: 487, y: p.titleY,
    style: { text: p.title, fontSize: 20, fill: ink, fontFamily: fontFam,
      textAlign: 'center', textVerticalAlign: 'middle' } });
  graphics.push({ type: 'text', x: i === 0 ? 3 : 9, y: p.letterY,
    style: { text: p.letter, fontSize: 29, fill: ink, fontFamily: fontFam,
      textAlign: 'left', textVerticalAlign: 'middle' } });
});

var chart = echarts.init(document.getElementById('main'));
chart.setOption({
  animation: false,
  backgroundColor: '#fff',
  grid: grids,
  xAxis: xAxes,
  yAxis: yAxes,
  series: series,
  graphic: graphics
});
</script>
</body>
</html>
